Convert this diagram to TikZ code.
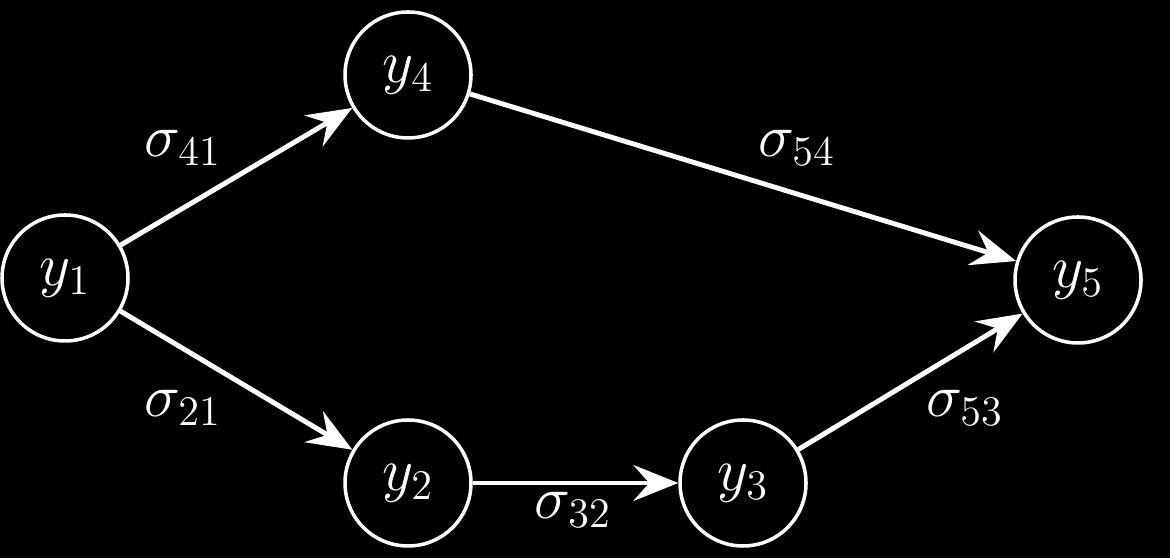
\documentclass[tikz,border=0pt]{standalone}
\usetikzlibrary{arrows.meta}
\begin{document}
\begin{tikzpicture}[white,
    var/.style={circle,draw=white,line width=1pt,minimum size=1.26cm,inner sep=0pt,font=\LARGE},
    edge/.style={line width=1.4pt,-{Stealth[length=4.5mm,width=3.6mm,inset=1.6mm]}},
    lab/.style={font=\LARGE}]
    \fill[black] (0,0) rectangle (11.7,5.58);
    \useasboundingbox (0,0) rectangle (11.7,5.58);
    %Variables
    \node[var] (y1) at (0.65,2.80) {$y_1$};
    \node[var] (y4) at (4.08,4.83) {$y_4$};
    \node[var] (y2) at (4.08,0.75) {$y_2$};
    \node[var] (y3) at (7.43,0.75) {$y_3$};
    \node[var] (y5) at (10.78,2.78) {$y_5$};
    %Paths
    \draw[edge] (y1) -- (y4);
    \draw[edge] (y1) -- (y2);
    \draw[edge] (y2) -- (y3);
    \draw[edge] (y3) -- (y5);
    \draw[edge] (y4) -- (y5);
    %Labels
    \node[lab] (s41) at (1.83,4.10) {$\sigma_{41}$};
    \node[lab] (s54) at (7.97,4.10) {$\sigma_{54}$};
    \node[lab] (s21) at (1.83,1.50) {$\sigma_{21}$};
    \node[lab] (s53) at (9.65,1.50) {$\sigma_{53}$};
    \node[lab] (s32) at (5.73,0.48) {$\sigma_{32}$};
\end{tikzpicture}
\end{document}
